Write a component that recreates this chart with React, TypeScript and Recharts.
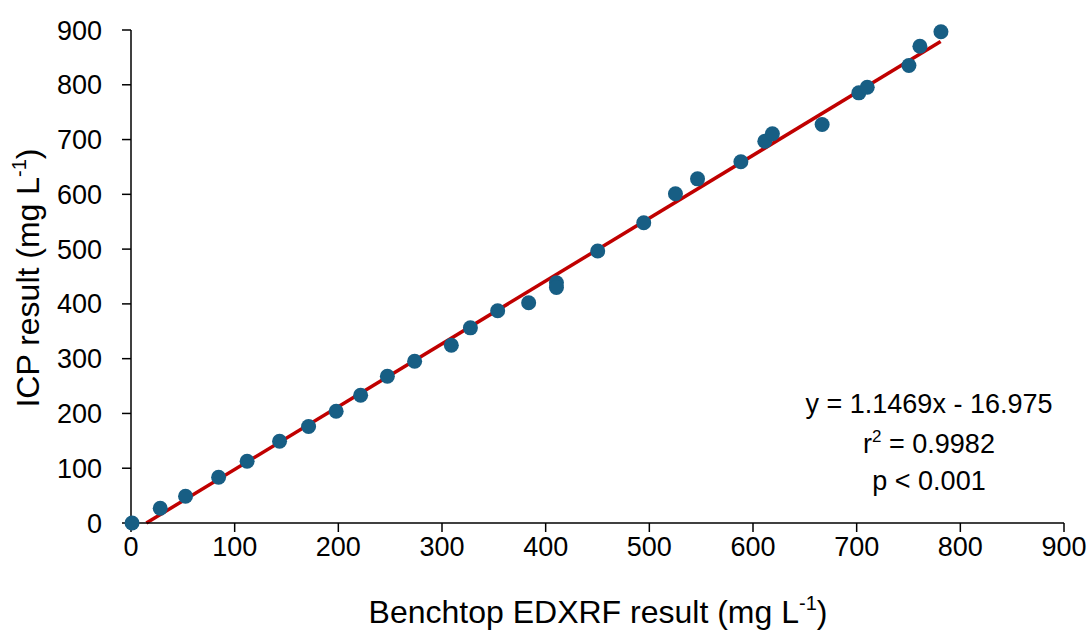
import React from "react";
import { ScatterChart, Scatter, XAxis, YAxis, ReferenceLine } from "recharts";

// values
const edxrf = [
  1, 28.2, 52.6, 84.5, 112, 143.3, 171.3, 197.9, 221.5, 247.3, 273.6, 309, 327.4, 353.7, 383.6,
  410.4, 410.4, 450.2, 494.6, 525.2, 546.5, 588.3, 611.4, 618.7, 666.7, 702.1, 710.2, 750.4, 761, 781.3,
];
const icp = [
  0, 27, 48.9, 83.6, 112.8, 149.3, 176.2, 204.1, 233.3, 268, 295.4, 324.6, 356.3, 387.4, 402,
  438.5, 429.9, 496.5, 548, 601, 628.3, 659.5, 697, 710.7, 727.4, 785.3, 795.5, 835.2, 870.4, 896.7,
];
const fitLine = [
  { x: 14.8, y: 0 },
  { x: 781, y: 878.8 },
];
const axisTicks = [0, 100, 200, 300, 400, 500, 600, 700, 800, 900];
const statLines = ["y = 1.1469x - 16.975", "r² = 0.9982", "p < 0.001"];

const points = edxrf.map((x, i) => ({ x, y: icp[i] }));

const FONT = '"Liberation Sans", Arial, sans-serif';
const DOT = "#175E84";
const FIT = "#C00000";

const Dot = (props: any) => <circle cx={props.cx} cy={props.cy} r={7.5} fill={DOT} />;

const App: React.FC = () => {
  return (
    <div style={{ position: "absolute", left: 0, top: 0, width: 1092, height: 631, background: "#fff" }}>
      <ScatterChart width={1092} height={631} margin={{ top: 30, right: 28, bottom: 0, left: 0 }}>
        <XAxis
          type="number"
          dataKey="x"
          domain={[0, 900]}
          ticks={axisTicks}
          height={108}
          tickSize={9}
          tickMargin={5}
          axisLine={{ stroke: "#000", strokeWidth: 1.5 }}
          tickLine={{ stroke: "#000", strokeWidth: 1.5 }}
          tick={{ fill: "#000", fontSize: 27, fontFamily: FONT }}
        />
        <YAxis
          type="number"
          dataKey="y"
          domain={[0, 900]}
          ticks={axisTicks}
          width={131}
          tickSize={9}
          tickMargin={20}
          axisLine={{ stroke: "#000", strokeWidth: 1.5 }}
          tickLine={{ stroke: "#000", strokeWidth: 1.5 }}
          tick={{ fill: "#000", fontSize: 27, fontFamily: FONT }}
        />
        <Scatter data={points} shape={Dot} isAnimationActive={false} />
        <ReferenceLine
          segment={fitLine}
          stroke={FIT}
          strokeWidth={3.5}
          ifOverflow="visible"
        />
      </ScatterChart>
      <svg
        width={1092}
        height={631}
        style={{ position: "absolute", left: 0, top: 0, pointerEvents: "none" }}
        fontFamily={FONT}
        fill="#000"
      >
        <text x={598} y={623} fontSize={32} textAnchor="middle">
          Benchtop EDXRF result (mg L
          <tspan dy={-13} fontSize={20}>-1</tspan>
          <tspan dy={13}>)</tspan>
        </text>
        <text x={39} y={278} fontSize={32} textAnchor="middle" transform="rotate(-90 39 278)">
          ICP result (mg L
          <tspan dy={-13} fontSize={20}>-1</tspan>
          <tspan dy={13}>)</tspan>
        </text>
        <text x={929} y={413} fontSize={27} textAnchor="middle">{statLines[0]}</text>
        <text x={929} y={453} fontSize={27} textAnchor="middle">
          r<tspan dy={-11} fontSize={17}>2</tspan>
          <tspan dy={11}>{statLines[1].slice(2)}</tspan>
        </text>
        <text x={929} y={490} fontSize={27} textAnchor="middle">{statLines[2]}</text>
      </svg>
    </div>
  );
};

export default App;
